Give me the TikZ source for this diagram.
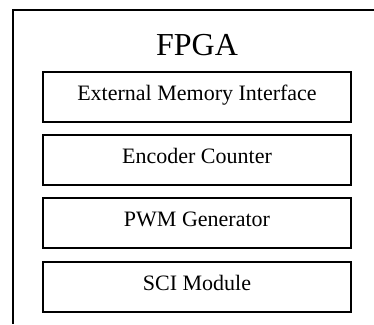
\documentclass[tikz,border=0pt]{standalone}
\usepackage{fontspec}
\setmainfont{Liberation Serif}
\usepackage{tikz}

\tikzset{
  block/.style={draw, line width=2.2pt, minimum width=308pt, minimum height=50pt,
    inner sep=0pt, text height=0.75em, text depth=0.15em,
    font=\fontsize{22}{24}\selectfont},
  frame/.style={line width=2.8pt}
}

\begin{document}
\begin{tikzpicture}[x=1pt,y=-1pt]
\useasboundingbox (0,0) rectangle (374,324);
% outer FPGA frame, open to the right and bottom
\draw[frame] (374,10) -- (13,10) -- (13,324);
\node[anchor=base, font=\fontsize{32}{34}\selectfont] (fpga) at (197,55) {FPGA};

% the four blocks inside
\node[block] (emif) at (197,97) {External Memory Interface};
\node[block] (enc) at (197,160) {Encoder Counter};
\node[block] (pwm) at (197,223) {PWM Generator};
\node[block] (sci) at (197,287) {SCI Module};
\end{tikzpicture}
\end{document}
